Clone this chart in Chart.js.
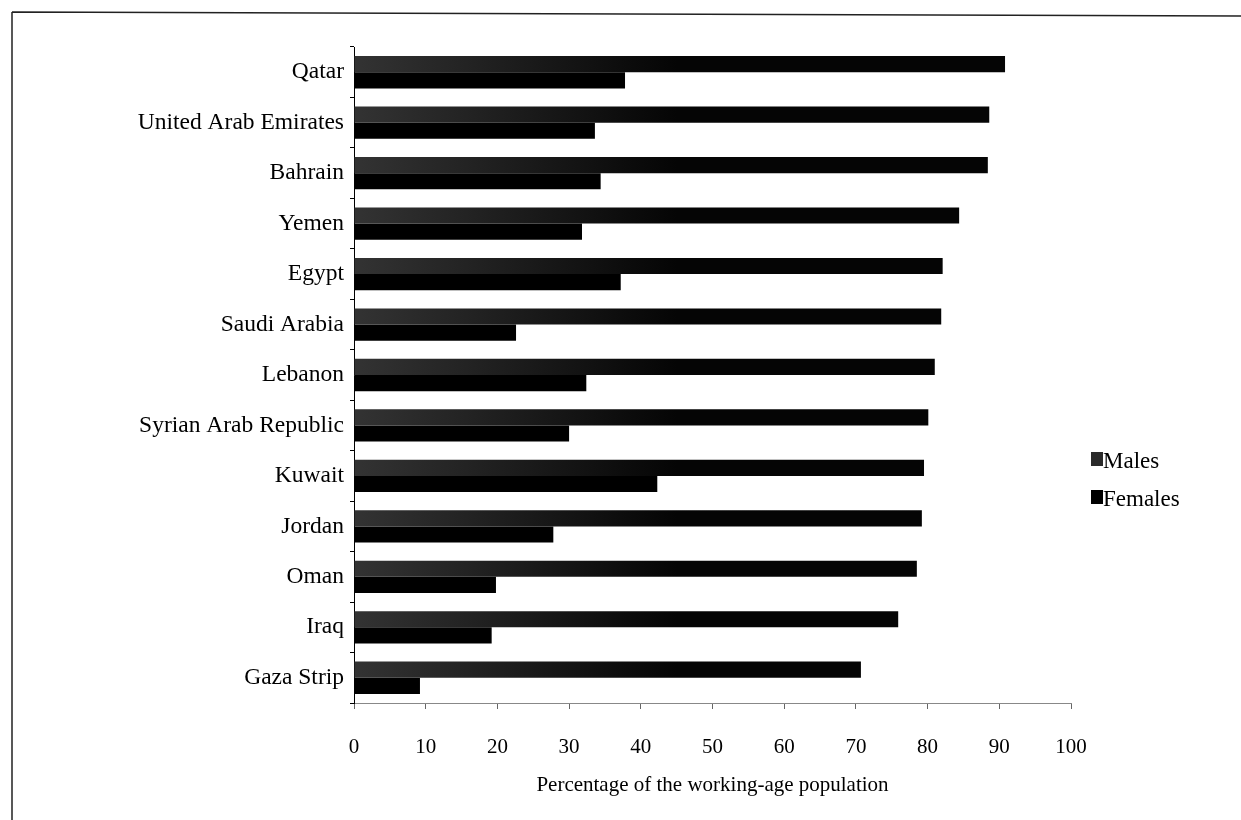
<!DOCTYPE html>
<html>
<head>
<meta charset="utf-8">
<script src="https://cdn.jsdelivr.net/npm/chart.js@4.4.1/dist/chart.umd.min.js"></script>
<style>
  html, body { margin: 0; padding: 0; background: #fff; }
  #wrap { width: 1241px; height: 820px; position: relative; }
</style>
</head>
<body>
<div id="wrap"><canvas id="c" width="1241" height="820"></canvas></div>
<script>
// Labour force participation, % of working-age population
const countries = [
  'Qatar', 'United Arab Emirates', 'Bahrain', 'Yemen', 'Egypt', 'Saudi Arabia',
  'Lebanon', 'Syrian Arab Republic', 'Kuwait', 'Jordan', 'Oman', 'Iraq', 'Gaza Strip'
];
const males   = [90.8, 88.6, 88.4, 84.4, 82.1, 81.9, 81.0, 80.1, 79.5, 79.2, 78.5, 75.9, 70.7];
const females = [37.8, 33.6, 34.4, 31.8, 37.2, 22.6, 32.4, 30.0, 42.3, 27.8, 19.8, 19.2, 9.2];
const xTicks  = [0, 10, 20, 30, 40, 50, 60, 70, 80, 90, 100];
const axisTitle = 'Percentage of the working-age population';

const SERIF = '"Liberation Serif", "Times New Roman", serif';

// Males bars: grey-toned at the base, fading to black
function maleFill(ctx) {
  const chart = ctx.chart;
  const area = chart.chartArea;
  if (!area) return '#111';
  const g = chart.ctx.createLinearGradient(area.left, 0, area.left + (area.right - area.left) * 0.45, 0);
  g.addColorStop(0, '#333');
  g.addColorStop(1, '#050505');
  return g;
}

// Page frame and custom legend
const decor = {
  id: 'decor',
  afterDraw(chart) {
    const c = chart.ctx;
    c.save();
    c.strokeStyle = '#222';
    c.lineWidth = 1.5;
    c.beginPath();
    c.moveTo(12, 12);
    c.lineTo(1241, 16);
    c.moveTo(12, 12);
    c.lineTo(12, 820);
    c.stroke();

    // legend
    const items = chart.data.datasets;
    const x0 = 1091, ys = [461, 499];
    c.font = '23px ' + SERIF;
    c.textBaseline = 'middle';
    items.forEach((ds, i) => {
      c.fillStyle = i === 0 ? '#2a2a2a' : '#000';
      c.fillRect(x0, ys[i] - 9, 12, 14);
      c.fillStyle = '#000';
      c.fillText(ds.label, x0 + 12, ys[i] + 1);
    });
    c.restore();
  }
};

new Chart(document.getElementById('c'), {
  type: 'bar',
  data: {
    labels: countries,
    datasets: [
      { label: 'Males', data: males, backgroundColor: maleFill, borderWidth: 0 },
      { label: 'Females', data: females, backgroundColor: '#000', borderWidth: 0 }
    ]
  },
  options: {
    indexAxis: 'y',
    responsive: false,
    animation: false,
    devicePixelRatio: 1,
    categoryPercentage: 0.64,
    barPercentage: 1.0,
    layout: { padding: { top: 47, right: 170, bottom: 0, left: 0 } },
    plugins: {
      legend: { display: false },
      tooltip: { enabled: false }
    },
    scales: {
      x: {
        min: 0, max: 100,
        afterFit(scale) { scale.height = 117; },
        afterBuildTicks(scale) { scale.ticks = xTicks.map(v => ({ value: v })); },
        grid: { drawOnChartArea: false, drawTicks: true, tickLength: 6, color: '#666' },
        border: { display: true, color: '#888', dash: [10, 4], width: 1 },
        ticks: { color: '#000', padding: 26, font: { family: SERIF, size: 21 } },
        title: {
          display: true, text: axisTitle, color: '#000',
          font: { family: SERIF, size: 21 }, padding: { top: 0, bottom: 22 }
        }
      },
      y: {
        afterFit(scale) { scale.width = 354; },
        grid: { drawOnChartArea: false, drawTicks: true, tickLength: 4, color: '#000', offset: true },
        border: { display: true, color: '#000', width: 1 },
        ticks: { color: '#000', padding: 6, font: { family: SERIF, size: 23.5 } }
      }
    }
  },
  plugins: [decor]
});
</script>
</body>
</html>
